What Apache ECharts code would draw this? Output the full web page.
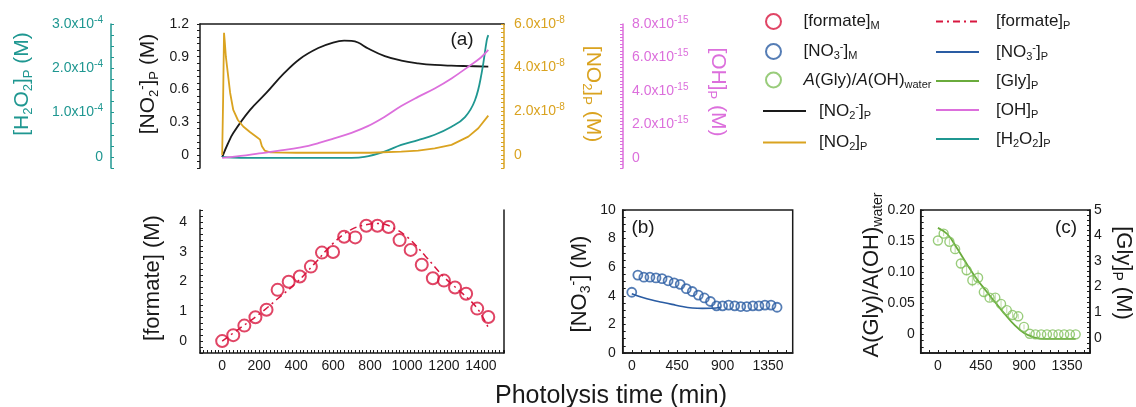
<!DOCTYPE html>
<html>
<head>
<meta charset="utf-8">
<script src="https://cdn.jsdelivr.net/npm/echarts@6.0.0/dist/echarts.min.js"></script>
<style>
  html, body { margin: 0; padding: 0; background: #fff; }
  #chart { width: 1136px; height: 407px; }
</style>
</head>
<body>
<div id="chart"></div>
<script>
const FONT = '"Liberation Sans", Arial, sans-serif';
const INK = '#1a1a1a';
const RED = '#d8173f';
const BLUE = '#2a5ca3';
const GREEN = '#6aab3c';
const GREEN_LIGHT = '#80bf5a';
const GOLD = '#daa320';
const PINK = '#dc6fdc';
const TEAL = '#1f9791';

// panel (a): model profiles, [time (min), value]
const no2mP = [[0, -0.02], [30, 0.1], [60, 0.2], [150, 0.41], [240, 0.57], [330, 0.74], [420, 0.88],
    [520, 0.98], [600, 1.03], [660, 1.047], [700, 1.045], [735, 1.03], [790, 0.975], [880, 0.905],
    [970, 0.864], [1060, 0.84], [1150, 0.825], [1240, 0.818], [1330, 0.814], [1440, 0.81]];
// units of 1e-4 M
const h2o2P = [[0, 0], [100, -0.02], [400, -0.02], [700, -0.02], [770, 0], [878, 0.12], [969, 0.27],
    [1060, 0.38], [1150, 0.5], [1241, 0.68], [1314, 0.9], [1368, 1.28], [1404, 1.89], [1432, 2.64], [1440, 2.75]];
// units of 1e-8 M
const no2P = [[0, 0], [5, 2.5], [10, 5.6], [14, 5.2], [20, 4.5], [27, 4.0], [43, 2.85], [60, 2.06],
    [85, 1.6], [114, 1.3], [150, 1.05], [190, 0.8], [205, 0.7], [215, 0.4], [230, 0.2], [260, 0.12],
    [400, 0.1], [600, 0.1], [800, 0.1], [969, 0.15], [1060, 0.2], [1150, 0.3], [1241, 0.46],
    [1332, 0.84], [1386, 1.22], [1440, 1.8]];
// units of 1e-15 M
const ohP = [[0, 0], [100, 0.12], [200, 0.27], [300, 0.42], [425, 0.63], [520, 0.88], [606, 1.17],
    [700, 1.5], [788, 1.9], [878, 2.45], [969, 3.1], [1060, 3.65], [1150, 4.15], [1241, 4.75],
    [1332, 5.45], [1400, 6.0], [1440, 6.45]];

// bottom panels: measurement times and values
const tMeas = [0, 60, 120, 180, 240, 300, 360, 420, 480, 540, 600, 660, 720, 780, 840, 900,
    960, 1020, 1080, 1140, 1200, 1260, 1320, 1380, 1440];
const formateM = [0.00, 0.20, 0.52, 0.80, 1.05, 1.72, 1.99, 2.17, 2.50, 2.97, 2.99, 3.50, 3.48,
    3.87, 3.87, 3.83, 3.39, 3.06, 2.56, 2.11, 2.03, 1.80, 1.59, 1.09, 0.81];
const formateP = [[0, 0], [100, 0.45], [200, 0.9], [300, 1.42], [400, 1.95], [500, 2.6], [600, 3.28],
    [700, 3.75], [800, 3.93], [850, 3.95], [900, 3.88], [1000, 3.5], [1100, 2.85], [1200, 2.15],
    [1300, 1.6], [1380, 1.1], [1440, 0.45]];
const no3M = [4.25, 5.45, 5.3, 5.3, 5.25, 5.2, 5.05, 4.9, 4.8, 4.5, 4.3, 4.05, 3.85, 3.6, 3.3, 3.3,
    3.35, 3.3, 3.25, 3.25, 3.3, 3.3, 3.35, 3.35, 3.2];
const no3P = [[0, 4.15], [100, 3.9], [200, 3.7], [300, 3.55], [400, 3.4], [500, 3.25], [600, 3.15],
    [700, 3.12], [800, 3.13], [880, 3.2]];
const aGly = [0.151, 0.162, 0.149, 0.137, 0.114, 0.103, 0.087, 0.091, 0.068, 0.059, 0.059, 0.049,
    0.039, 0.031, 0.029, 0.012, 0.001, 0, 0, 0, 0, 0, 0, 0, 0];
const aGlyErr = [0.003, 0.004, 0.005, 0.006, 0.008, 0.008, 0.010, 0.012, 0.008, 0.006, 0.006, 0.006,
    0.005, 0.005, 0.004, 0.004, 0.002, 0, 0, 0, 0, 0, 0, 0, 0];
const glyP = [[0, 4.3], [100, 4.05], [200, 3.5], [300, 2.9], [400, 2.33], [500, 1.85], [600, 1.38],
    [700, 0.92], [800, 0.5], [900, 0.18], [1000, 0.02], [1100, -0.05], [1440, -0.05]];

// tick labels
const ticksNO2m = [0, 0.3, 0.6, 0.9, 1.2];
const ticksH2O2 = [0, 1, 2, 3];
const ticksNO2 = [0, 2, 4, 6];
const ticksOH = [0, 2, 4, 6, 8];
const ticksFormateX = [0, 200, 400, 600, 800, 1000, 1200, 1400];
const ticksFormateY = [0, 1, 2, 3, 4];
const ticksTimeX = [0, 450, 900, 1350];
const ticksNO3 = [0, 2, 4, 6, 8, 10];
const ticksAGly = [0, 0.05, 0.10, 0.15, 0.20];
const ticksGly = [0, 1, 2, 3, 4, 5];

const zip = (xs, ys) => xs.map((x, i) => [x, ys[i]]);

// superscript exponent labels, e.g. 2.0x10^-8
const sci = exp => v => v === 0 ? '0' : v.toFixed(1) + 'x10{sup|' + exp + '}';

function supRich(color) {
    return { sup: { fontSize: 10, lineHeight: 10, verticalAlign: 'top', color, fontFamily: FONT } };
}

function xAx(o) {
    return {
        type: 'value', gridIndex: o.grid, position: o.pos || 'bottom',
        min: o.min, max: o.max, interval: o.step,
        splitLine: { show: false },
        axisLine: { show: true, onZero: false, lineStyle: { color: INK, width: 1.5 } },
        axisTick: { show: !!o.step, inside: true, length: 3, lineStyle: { color: INK } },
        axisLabel: o.labels ? {
            customValues: o.labels, formatter: v => String(v),
            color: INK, fontSize: 14, margin: 6, fontFamily: FONT
        } : { show: false }
    };
}

function yAx(o) {
    const color = o.color || INK;
    return {
        type: 'value', gridIndex: o.grid, position: o.pos || 'left', offset: o.offset || 0,
        min: o.min, max: o.max, interval: o.step,
        splitLine: { show: false },
        axisLine: { show: true, onZero: false, lineStyle: { color, width: 1.5 } },
        axisTick: { show: !!o.step, inside: o.inside !== false, length: 3, lineStyle: { color } },
        axisLabel: o.labels ? {
            customValues: o.labels, formatter: o.fmt, color, fontSize: 14, lineHeight: 18,
            margin: o.margin || 8, fontFamily: FONT, rich: supRich(color)
        } : { show: false }
    };
}

function line(name, data, color, xi, yi, extra) {
    return Object.assign({
        name, type: 'line', data, xAxisIndex: xi, yAxisIndex: yi,
        symbol: 'none', smooth: 0.4,
        lineStyle: { color, width: 1.8 }, itemStyle: { color }, z: 3
    }, extra || {});
}

function dots(name, data, color, xi, yi, size, bw) {
    return {
        name, type: 'scatter', data, xAxisIndex: xi, yAxisIndex: yi,
        symbol: 'circle', symbolSize: size,
        itemStyle: { color: 'rgba(255,255,255,0)', borderColor: color, borderWidth: bw }, z: 4
    };
}

// legend text with sub/superscripts
const LEGEND_TEXT = {
    formateM: '{b|[formate]}{s|M}',
    no3M: '{b|[NO}{s|3}{p|-}{b|]}{s|M}',
    aGly: '{i|A}{b|(Gly)/}{i|A}{b|(OH)}{s|water}',
    no2mP: '{b|[NO}{s|2}{p|-}{b|]}{s|P}',
    no2P: '{b|[NO}{s|2}{b|]}{s|P}',
    formateP: '{b|[formate]}{s|P}',
    no3P: '{b|[NO}{s|3}{p|-}{b|]}{s|P}',
    glyP: '{b|[Gly]}{s|P}',
    ohP: '{b|[OH]}{s|P}',
    h2o2P: '{b|[H}{s|2}{b|O}{s|2}{b|]}{s|P}'
};

const LEGEND_RICH = {
    b: { fontSize: 17, lineHeight: 20, color: INK, fontFamily: FONT },
    i: { fontSize: 17, lineHeight: 20, color: INK, fontFamily: FONT, fontStyle: 'italic' },
    s: { fontSize: 11, lineHeight: 11, verticalAlign: 'bottom', color: INK, fontFamily: FONT },
    p: { fontSize: 11, lineHeight: 11, verticalAlign: 'top', color: INK, fontFamily: FONT }
};

function legend(o) {
    const lg = {
        orient: 'vertical', selectedMode: false, padding: 0,
        left: o.left, top: o.top, itemWidth: o.w, itemHeight: 15, itemGap: o.gap,
        data: o.data,
        formatter: n => LEGEND_TEXT[n],
        textStyle: { padding: [0, 0, 0, o.pad], rich: LEGEND_RICH }
    };
    // line entries: hide the marker ECharts puts in the middle of the line icon
    if (o.lineOnly) {
        lg.itemStyle = { color: 'rgba(0,0,0,0)', borderColor: 'rgba(0,0,0,0)', borderWidth: 0 };
    }
    return lg;
}

function titleRich(color, size) {
    const sub = Math.round(size * 0.64);
    return {
        t: { fontSize: size, lineHeight: size + 4, fill: color, fontFamily: FONT },
        s: { fontSize: sub, lineHeight: sub, verticalAlign: 'bottom', fill: color, fontFamily: FONT },
        p: { fontSize: sub, lineHeight: sub, verticalAlign: 'top', fill: color, fontFamily: FONT }
    };
}

// rotated axis title; up = reads bottom-to-top
function vTitle(text, x, y, color, up, size) {
    return {
        type: 'text', x, y, rotation: up ? Math.PI / 2 : -Math.PI / 2,
        style: {
            text, fill: color, align: 'center', verticalAlign: 'middle',
            textAlign: 'center', textVerticalAlign: 'middle', rich: titleRich(color, size)
        }
    };
}

function hText(text, x, y, size) {
    return {
        type: 'text', x, y,
        style: {
            text, fill: INK, fontSize: size, fontFamily: FONT,
            align: 'center', verticalAlign: 'middle', textAlign: 'center', textVerticalAlign: 'middle'
        }
    };
}

const option = {
    animation: false,
    backgroundColor: '#fff',
    textStyle: { fontFamily: FONT },
    grid: [
        { left: 200, top: 24, width: 304, height: 144 },
        { left: 200, top: 210, width: 304, height: 143 },
        { left: 622.7, top: 210, width: 170, height: 143, show: true, borderColor: INK, borderWidth: 1.5 },
        { left: 920.7, top: 210, width: 169.3, height: 143, show: true, borderColor: INK, borderWidth: 1.5 }
    ],
    xAxis: [
        xAx({ grid: 0, pos: 'top', min: -120, max: 1525 }),
        xAx({ grid: 1, min: -120, max: 1525, step: 20, labels: ticksFormateX }),
        xAx({ grid: 2, min: -90, max: 1595, step: 90, labels: ticksTimeX }),
        xAx({ grid: 3, min: -180, max: 1590, step: 90, labels: ticksTimeX })
    ],
    yAxis: [
        yAx({ grid: 0, min: -0.12, max: 1.2, step: 0.06, inside: false, labels: ticksNO2m, margin: 11,
            fmt: v => v === 0 ? '0' : v.toFixed(1) }),
        yAx({ grid: 0, offset: 89, color: TEAL, min: -0.25, max: 3, step: 0.25, labels: ticksH2O2,
            fmt: sci('-4') }),
        yAx({ grid: 0, pos: 'right', color: GOLD, min: -0.6, max: 6, step: 0.2, labels: ticksNO2,
            margin: 10, fmt: sci('-8') }),
        yAx({ grid: 0, pos: 'right', offset: 119, color: PINK, min: -0.6, max: 8, step: 0.2,
            labels: ticksOH, margin: 9, fmt: sci('-15') }),
        yAx({ grid: 1, min: -0.4, max: 4.4, step: 0.2, labels: ticksFormateY, margin: 13,
            fmt: v => String(v) }),
        yAx({ grid: 1, pos: 'right', min: -0.4, max: 4.4 }),
        yAx({ grid: 2, min: 0, max: 10, step: 0.5, labels: ticksNO3, margin: 7, fmt: v => String(v) }),
        yAx({ grid: 3, min: -0.03, max: 0.2, step: 0.01, labels: ticksAGly, margin: 6,
            fmt: v => v === 0 ? '0' : v.toFixed(2) }),
        yAx({ grid: 3, pos: 'right', min: -0.6, max: 5, step: 0.2, labels: ticksGly, margin: 4,
            fmt: v => String(v) })
    ],
    legend: [
        legend({ left: 765, top: 13, w: 30, gap: 10, pad: 10,
            data: ['formateM', 'no3M', 'aGly'].map(name => ({ name, icon: 'circle' })) }),
        legend({ left: 762, top: 101, w: 43, gap: 13, pad: 8, lineOnly: true,
            data: ['no2mP', 'no2P'] }),
        legend({ left: 935, top: 13, w: 43, gap: 10.5, pad: 12, lineOnly: true,
            data: ['formateP', 'no3P', 'glyP', 'ohP', 'h2o2P'] })
    ],
    series: [
        line('no2mP', no2mP, INK, 0, 0),
        line('h2o2P', h2o2P, TEAL, 0, 1),
        line('no2P', no2P, GOLD, 0, 2, { smooth: false }),
        line('ohP', ohP, PINK, 0, 3),

        line('formateP', formateP, RED, 1, 4, { lineStyle: { color: RED, width: 1.5, type: [7, 4, 2, 4] } }),
        dots('formateM', zip(tMeas, formateM), RED, 1, 4, 12, 2),

        line('no3P', no3P, BLUE, 2, 6, { lineStyle: { color: BLUE, width: 1.6 } }),
        dots('no3M', zip(tMeas, no3M), BLUE, 2, 6, 9, 1.8),

        {
            name: 'aGlyErr', type: 'custom', xAxisIndex: 3, yAxisIndex: 7, z: 2,
            data: tMeas.map((t, i) => [t, aGly[i] - aGlyErr[i], aGly[i] + aGlyErr[i]]),
            renderItem: (params, api) => {
                const lo = api.coord([api.value(0), api.value(1)]);
                const hi = api.coord([api.value(0), api.value(2)]);
                return {
                    type: 'line',
                    shape: { x1: lo[0], y1: lo[1], x2: hi[0], y2: hi[1] },
                    style: { stroke: '#bcdca4', lineWidth: 1 }
                };
            }
        },
        line('glyP', glyP, GREEN, 3, 8, { lineStyle: { color: GREEN, width: 1.8 } }),
        dots('aGly', zip(tMeas, aGly), GREEN_LIGHT, 3, 7, 9, 1.4)
    ],
    graphic: [
        vTitle('{t|[H}{s|2}{t|O}{s|2}{t|]}{s|P}{t| (M)}', 22, 84, TEAL, true, 21),
        vTitle('{t|[NO}{s|2}{p|-}{t|]}{s|P}{t| (M)}', 148, 84, INK, true, 21),
        vTitle('{t|[NO}{s|2}{t|]}{s|P}{t| (M)}', 593, 94, GOLD, false, 21),
        vTitle('{t|[OH]}{s|P}{t| (M)}', 718, 92, PINK, false, 21),
        vTitle('{t|[formate] (M)}', 153, 278, INK, true, 22),
        vTitle('{t|[NO}{s|3}{p|-}{t|] (M)}', 580, 284, INK, true, 22),
        vTitle('{t|A(Gly)/A(OH)}{s|water}', 872, 275, INK, true, 22),
        vTitle('{t|[Gly]}{s|P}{t| (M)}', 1123, 273, INK, false, 22),
        hText('(a)', 462, 40, 19),
        hText('(b)', 643, 228, 19),
        hText('(c)', 1066, 228, 19),
        hText('Photolysis time (min)', 611, 396, 25)
    ]
};

const chart = echarts.init(document.getElementById('chart'), null, { renderer: 'canvas' });
chart.setOption(option);
</script>
</body>
</html>
